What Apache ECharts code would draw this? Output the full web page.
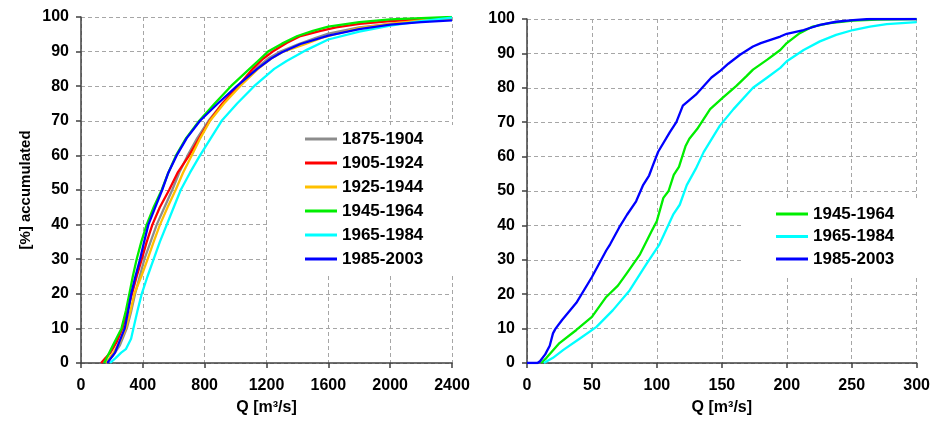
<!DOCTYPE html>
<html>
<head>
<meta charset="utf-8">
<script src="https://cdn.jsdelivr.net/npm/echarts@6/dist/echarts.min.js"></script>
<style>
html,body{margin:0;padding:0;background:#fff;}
#c{width:933px;height:421px;}
</style>
</head>
<body>
<div id="c"></div>
<script>
// Left panel: [Q m3/s, % accumulated]
const p1875_1904 = [[155,0],[205,2],[250,5],[296,10],[325,15],[350,20],[380,25],[410,30],[450,35],[490,40],[540,45],[590,50],[635,55],[690,60],[752,65],[825,70],[915,75],[1020,80],[1130,85],[1210,88],[1290,90],[1400,92],[1520,94],[1600,95.2],[1800,97],[2000,98],[2200,99],[2400,99.5]];
const p1905_1924 = [[130,0],[190,3],[230,6],[268,10],[300,15],[330,20],[360,25],[393,30],[425,35],[462,40],[510,45],[570,50],[625,55],[700,60],[765,65],[832,70],[915,75],[1015,80],[1110,85],[1180,88],[1240,90],[1330,92.5],[1420,94.5],[1550,96],[1650,97],[1800,98],[2000,98.8],[2200,99.3],[2400,99.6]];
const p1925_1944 = [[160,0],[210,3],[250,6],[290,10],[320,15],[345,20],[390,25],[431,30],[470,35],[511,40],[560,45],[612,50],[660,55],[716,60],[772,65],[835,70],[925,75],[1029,80],[1145,85],[1230,88],[1310,90],[1440,92],[1560,94],[1640,95],[1800,96.8],[2000,98],[2200,99],[2400,99.4]];
const p1945_1964 = [[150,0],[205,5],[262,10],[290,15],[313,20],[335,25],[360,30],[390,35],[425,40],[470,45],[522,50],[565,55],[615,60],[680,65],[765,70],[865,75],[970,80],[1090,85],[1150,87.5],[1210,90],[1300,92.3],[1400,94.5],[1500,96],[1600,97.2],[1800,98.5],[2000,99.3],[2200,99.7],[2400,100]];
const p1965_1984 = [[188,0],[225,1.5],[260,3],[290,4],[324,7],[339,10],[365,15],[393,20],[430,25],[470,30],[510,35],[555,40],[600,45],[645,50],[705,55],[770,60],[840,65],[910,70],[1010,75],[1120,80],[1250,85],[1330,87.3],[1400,89],[1460,90.5],[1600,93.5],[1800,95.8],[2000,97.5],[2200,98.8],[2400,99.8]];
const p1985_2003 = [[170,0],[220,3],[283,10],[305,15],[325,20],[352,25],[382,30],[408,35],[436,40],[480,45],[525,50],[565,55],[619,60],[684,65],[770,70],[885,75],[1008,80],[1140,85],[1230,88],[1300,89.8],[1420,92.2],[1600,94.6],[1800,96.5],[2000,97.8],[2200,98.5],[2400,99]];

// Right panel
const r1945_1964 = [[11,0],[15,1.5],[25,5.8],[38,9.6],[50,13.4],[61,19.2],[70,22.5],[76.5,25.9],[87,31.6],[96,38.4],[100,41.3],[105,48],[109,50],[113,54.7],[117,57],[122,63],[125,65.2],[131,68],[141,73.8],[151,77.2],[161,80.5],[169,83.4],[174,85.3],[185,88.2],[195,91],[200,93],[210,95.9],[220,97.8],[233,98.8],[251,99.5],[270,99.8],[300,100]];
const r1965_1984 = [[13,0],[20,1.5],[28,3.8],[41,7.2],[53.5,10.5],[66,15.3],[79,21.1],[92,28.8],[102,34.5],[112.5,43.1],[117.6,46],[123,51.7],[130,56.5],[136,61.3],[148.5,69],[159,73.8],[174,80],[185,83],[195,85.8],[200,87.7],[213,91],[225.5,93.5],[238,95.4],[251,96.8],[264,97.8],[277,98.5],[300,99.1]];
const r1985_2003 = [[0,0],[8,0],[10,0.5],[14,2.5],[17.5,5],[20,8.6],[22,10],[27,12.5],[38,17.5],[50,25],[61,32.7],[64,34.5],[71,39.4],[77,43.1],[84,47],[89.5,51.8],[94,54.5],[97,57.5],[101,61.4],[110,67.1],[115,70],[120,74.8],[130,78],[142,83],[149,85],[155,87],[164,89.6],[174,92],[180,93],[195,94.9],[200,95.7],[213,96.8],[225.5,98.3],[238,99.2],[251,99.7],[264,100],[300,100]];

const leftNames = ['1875-1904','1905-1924','1925-1944','1945-1964','1965-1984','1985-2003'];
const rightNames = ['1945-1964','1965-1984','1985-2003'];
const colors = {'1875-1904':'#8c8c8c','1905-1924':'#ff0000','1925-1944':'#ffc000','1945-1964':'#00ee00','1965-1984':'#00ffff','1985-2003':'#0000ff'};

const FONT = 'Arial, "Liberation Sans", sans-serif';
const axisCommonX = (idx, max, interval) => ({
  type:'value', gridIndex:idx, min:0, max:max, interval:interval,
  name:'Q [m³/s]', nameLocation:'middle', nameGap:37,
  nameTextStyle:{fontFamily:FONT, fontWeight:'bold', fontSize:16, color:'#000'},
  axisLine:{show:true, onZero:false, lineStyle:{color:'#404040', width:1.5}},
  axisTick:{show:true, length:5, lineStyle:{color:'#404040', width:1.5}},
  axisLabel:{fontFamily:FONT, fontWeight:'bold', fontSize:16, color:'#000', margin:15, formatter:(v)=>String(v)},
  splitLine:{show:true, lineStyle:{color:'#a6a6a6', type:[4,3], width:1}}
});
const axisCommonY = (idx, withName) => ({
  type:'value', gridIndex:idx, min:0, max:100, interval:10,
  name: withName ? '[%] accumulated' : '', nameLocation:'middle', nameGap:48,
  nameTextStyle:{fontFamily:FONT, fontWeight:'bold', fontSize:15, color:'#000'},
  axisLine:{show:true, lineStyle:{color:'#404040', width:1.5}},
  axisTick:{show:true, length:5, lineStyle:{color:'#404040', width:1.5}},
  axisLabel:{fontFamily:FONT, fontWeight:'bold', fontSize:16, color:'#000', margin:12, formatter:(v)=>String(v)},
  splitLine:{show:true, lineStyle:{color:'#a6a6a6', type:[4,3], width:1}}
});

const leftData = [p1875_1904,p1905_1924,p1925_1944,p1945_1964,p1965_1984,p1985_2003];
const rightData = [r1945_1964,r1965_1984,r1985_2003];

const series = [];
leftNames.forEach((n,i)=>series.push({
  name:n, type:'line', xAxisIndex:0, yAxisIndex:0, data:leftData[i],
  showSymbol:false, symbol:'none', smooth:false,
  lineStyle:{color:colors[n], width:2.3, join:'round'}, itemStyle:{color:colors[n]}, animation:false
}));
rightNames.forEach((n,i)=>series.push({
  name:n, type:'line', xAxisIndex:1, yAxisIndex:1, data:rightData[i],
  showSymbol:false, symbol:'none', smooth:false,
  lineStyle:{color:colors[n], width:2.3, join:'round'}, itemStyle:{color:colors[n]}, animation:false
}));

const legendCommon = {
  orient:'vertical', icon:'rect', itemWidth:32, itemHeight:3,
  backgroundColor:'#fff', borderWidth:0,
  textStyle:{fontFamily:FONT, fontWeight:'bold', fontSize:17, color:'#000', lineHeight:20},
  selectedMode:false
};

const chart = echarts.init(document.getElementById('c'), null, {renderer:'canvas'});
chart.setOption({
  backgroundColor:'#fff',
  animation:false,
  grid:[
    {left:81, top:17, right:481, bottom:56, containLabel:false},
    {left:527, top:19, right:16, bottom:54, containLabel:false}
  ],
  xAxis:[axisCommonX(0,2400,400), axisCommonX(1,300,50)],
  yAxis:[axisCommonY(0,true), axisCommonY(1,false)],
  legend:[
    Object.assign({}, legendCommon, {data:leftNames, left:270, top:125, padding:[4,30,5,35], itemGap:4}),
    Object.assign({}, legendCommon, {data:rightNames, left:743, top:198, padding:[6,25,6,33], itemGap:2.5})
  ],
  series:series
});
</script>
</body>
</html>
